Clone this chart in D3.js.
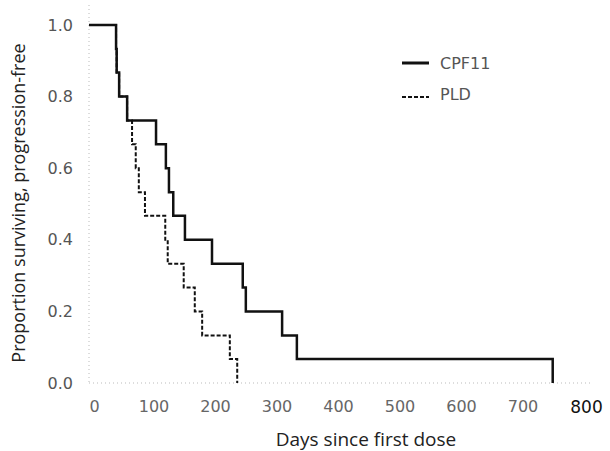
<!DOCTYPE html>
<html><head><meta charset="utf-8">
<script src="https://cdn.jsdelivr.net/npm/d3@7"></script>
<style>body{margin:0;background:#fff;}</style>
</head><body>
<svg id="c" width="610" height="451"></svg>
<script>
// Kaplan-Meier step data: [day, survival after event]
const cpf11Days = [0, 44, 45, 49, 62, 109, 125, 130, 137, 156, 200, 250, 255, 314, 338, 754];
const cpf11Surv = [1.0, 0.933, 0.867, 0.8, 0.733, 0.667, 0.6, 0.533, 0.467, 0.4, 0.333, 0.267, 0.2, 0.133, 0.067, 0.0];
const pldDays = [0, 44, 45, 49, 62, 70, 76, 81, 91, 124, 128, 154, 172, 184, 229, 241];
const pldSurv = [1.0, 0.933, 0.867, 0.8, 0.733, 0.667, 0.6, 0.533, 0.467, 0.4, 0.333, 0.267, 0.2, 0.133, 0.067, 0.0];
const xTicks = [0, 100, 200, 300, 400, 500, 600, 700, 800];
const yTicks = [0.0, 0.2, 0.4, 0.6, 0.8, 1.0];
const seriesNames = ["CPF11", "PLD"];

const svg = d3.select("#c");
const x = d3.scaleLinear().domain([0, 800]).range([89, 581]);
const y = d3.scaleLinear().domain([0, 1]).range([383, 25]);

// faint dotted axes
svg.append("line").attr("x1", x(0)).attr("x2", x(0)).attr("y1", 5).attr("y2", y(0))
  .attr("stroke", "#bbb").attr("stroke-width", 1).attr("stroke-dasharray", "1,3");
svg.append("line").attr("x1", x(0)).attr("x2", 590).attr("y1", y(0)).attr("y2", y(0))
  .attr("stroke", "#bbb").attr("stroke-width", 1).attr("stroke-dasharray", "1,3");

// tick labels via axes (no domain/tick lines)
const xAxis = svg.append("g").attr("transform", `translate(0,${y(0)})`)
  .call(d3.axisBottom(x).tickValues(xTicks).tickFormat(d3.format("d")).tickSize(0).tickPadding(18));
xAxis.select(".domain").remove();
xAxis.selectAll("text").attr("font-family", "DejaVu Sans")
  .attr("font-size", d => d === 800 ? 17 : 16)
  .attr("fill", d => d === 800 ? "#111" : "#666")
  .attr("transform", d => d === 0 ? "translate(5,0)" : (d === 800 ? "translate(5,0)" : "translate(3,0)"));

const yAxis = svg.append("g").attr("transform", `translate(${x(0)},0)`)
  .call(d3.axisLeft(y).tickValues(yTicks).tickFormat(d3.format(".1f")).tickSize(0).tickPadding(16));
yAxis.select(".domain").remove();
yAxis.selectAll("text").attr("font-family", "DejaVu Sans").attr("font-size", 16).attr("fill", "#555");

// step lines
function steps(days, surv) { return days.map((d, i) => [d, surv[i]]); }
const line = d3.line().x(d => x(d[0])).y(d => y(d[1])).curve(d3.curveStepAfter);
svg.append("path").datum(steps(pldDays, pldSurv)).attr("d", line)
  .attr("fill", "none").attr("stroke", "#111").attr("stroke-width", 2).attr("stroke-dasharray", "4,2");
svg.append("path").datum(steps(cpf11Days, cpf11Surv)).attr("d", line)
  .attr("fill", "none").attr("stroke", "#111").attr("stroke-width", 2.5);

// legend
const lg = svg.append("g");
[0, 1].forEach(i => {
  const yy = 63 + i * 31;
  lg.append("line").attr("x1", 402).attr("x2", 429).attr("y1", yy + (i ? 3 : 0)).attr("y2", yy + (i ? 3 : 0))
    .attr("stroke", "#111").attr("stroke-width", i ? 2 : 3).attr("stroke-dasharray", i ? "4,2" : null);
  lg.append("text").attr("x", 440).attr("y", yy + 6).text(seriesNames[i])
    .attr("font-family", "DejaVu Sans").attr("font-size", 16).attr("fill", "#555");
});

// titles
svg.append("text").attr("x", 366).attr("y", 446).attr("text-anchor", "middle")
  .attr("font-family", "Open Sans").attr("font-size", 19).attr("fill", "#222").text("Days since first dose");
svg.append("text").attr("transform", "translate(25,203) rotate(-90)").attr("text-anchor", "middle")
  .attr("font-family", "Open Sans").attr("font-size", 18).attr("fill", "#222").text("Proportion surviving, progression-free");
</script>
</body></html>
